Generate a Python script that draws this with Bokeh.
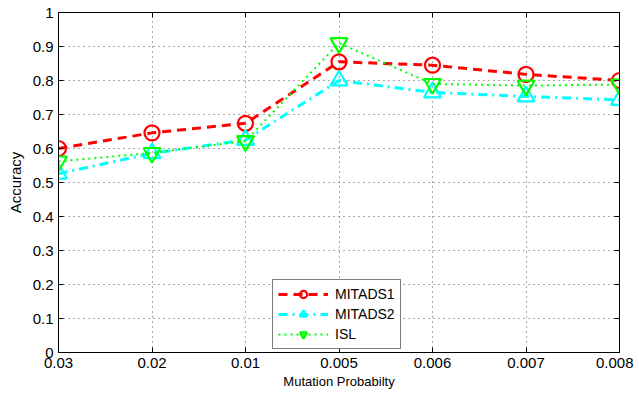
from bokeh.plotting import figure
from bokeh.models import FixedTicker, LinearAxis, Range1d, Legend, LegendItem
from bokeh.embed import file_html
from bokeh.resources import INLINE

categories = ["0.03", "0.02", "0.01", "0.005", "0.006", "0.007", "0.008"]
mitads1 = [0.600, 0.646, 0.674, 0.855, 0.845, 0.818, 0.800]
mitads2 = [0.526, 0.586, 0.625, 0.800, 0.765, 0.753, 0.743]
isl = [0.562, 0.587, 0.622, 0.910, 0.790, 0.785, 0.788]
y_ticks = [0, 0.1, 0.2, 0.3, 0.4, 0.5, 0.6, 0.7, 0.8, 0.9, 1]

x = list(range(len(categories)))
FONT = "Liberation Sans"

p = figure(width=633, height=392, output_backend="svg", toolbar_location=None,
           x_range=Range1d(0, len(categories) - 1), y_range=Range1d(0, 1),
           min_border_left=58, min_border_right=14, min_border_top=12, min_border_bottom=40)
p.background_fill_color = "white"
p.border_fill_color = "white"
p.outline_line_color = "black"
p.outline_line_width = 1

def style_axis(ax, labels=True):
    ax.axis_line_color = "black"
    ax.major_tick_in = 5
    ax.major_tick_out = 0
    ax.minor_tick_line_color = None
    ax.major_tick_line_color = "black"
    ax.major_label_text_font = FONT
    ax.major_label_text_font_size = "15px"
    ax.major_label_text_color = "black"
    ax.axis_label_text_font = FONT
    ax.axis_label_text_font_size = "13px"
    ax.axis_label_text_font_style = "normal"
    ax.axis_label_text_color = "black"
    if not labels:
        ax.major_label_text_font_size = "0px"
        ax.major_label_text_color = None

xt = FixedTicker(ticks=x)
yt = FixedTicker(ticks=y_ticks)
p.xaxis.ticker = xt
p.yaxis.ticker = yt
p.xaxis.major_label_overrides = {i: c for i, c in enumerate(categories)}
p.yaxis.major_label_overrides = {0: "0", 1: "1"}
p.xaxis.axis_label = "Mutation Probabilty"
p.yaxis.axis_label = "Accuracy"
p.xaxis.major_label_standoff = 5
p.yaxis.major_label_standoff = 5
p.xaxis.axis_label_standoff = 3
p.yaxis.axis_label_standoff = 6
style_axis(p.xaxis[0])
style_axis(p.yaxis[0])
p.yaxis.axis_label_text_font_size = "15px"

top = LinearAxis(ticker=FixedTicker(ticks=x))
right = LinearAxis(ticker=FixedTicker(ticks=y_ticks))
style_axis(top, labels=False)
style_axis(right, labels=False)
p.add_layout(top, "above")
p.add_layout(right, "right")

for g in (p.xgrid[0], p.ygrid[0]):
    g.grid_line_color = "#555555"
    g.grid_line_dash = "1 4"
    g.grid_line_width = 1
    g.grid_line_alpha = 1.0

l1 = p.line(x, mitads1, line_color="#ff0000", line_width=3, line_dash="9 6")
s1 = p.scatter(x, mitads1, marker="circle", size=15, line_color="#ff0000", line_width=2.2, fill_alpha=0)
l2 = p.line(x, mitads2, line_color="#00ffff", line_width=3, line_dash="9 5 2 5")
s2 = p.scatter(x, mitads2, marker="triangle", size=17, line_color="#00ffff", line_width=2.2, fill_alpha=0)
l3 = p.line(x, isl, line_color="#00ff00", line_width=2, line_dash="2 4")
s3 = p.scatter(x, isl, marker="inverted_triangle", size=17, line_color="#00ff00", line_width=2.2, fill_alpha=0)

legend = Legend(items=[
    LegendItem(label="MITADS1", renderers=[l1, s1]),
    LegendItem(label="MITADS2", renderers=[l2, s2]),
    LegendItem(label="ISL", renderers=[l3, s3]),
], location=(214, 3))
legend.label_text_font = FONT
legend.label_text_font_size = "14px"
legend.label_text_color = "black"
legend.border_line_color = "black"
legend.border_line_width = 1
legend.background_fill_color = "white"
legend.background_fill_alpha = 1
legend.glyph_width = 50
legend.glyph_height = 18
legend.label_standoff = 7
legend.spacing = 2
legend.padding = 5
legend.margin = 0
legend.label_height = 18
p.add_layout(legend, "center")

open("out.html", "w").write(file_html(p, INLINE))
